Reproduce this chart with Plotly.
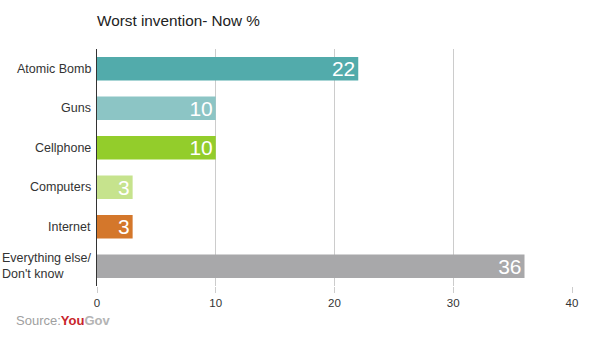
import plotly.graph_objects as go

categories = ["Atomic Bomb", "Guns", "Cellphone", "Computers", "Internet", "Everything else/<br>Don't know"]
values = [22, 10, 10, 3, 3, 36]
colors = ["#52abab", "#8cc5c5", "#93cd2b", "#c6e38d", "#d4772b", "#a8a8aa"]
x_ticks = [0, 10, 20, 30, 40]

FONT = "Liberation Sans, Arial, sans-serif"

fig = go.Figure(go.Bar(
    y=categories, x=values, orientation="h",
    marker=dict(color=colors, line=dict(width=0)),
    text=[str(v) for v in values], textposition="inside",
    insidetextanchor="end", textangle=0, constraintext="none",
    textfont=dict(color="white", size=21, family=FONT),
    width=0.6,
))

annotations = []
for c in categories:
    annotations.append(dict(
        text=c, x=0, xref="paper", y=c, yref="y", xanchor="right", yanchor="middle",
        xshift=-4, align="left", showarrow=False,
        font=dict(size=12.5, color="#333333", family=FONT)))

# plot area: y 49..286 px, x 97..572 px
annotations.append(dict(
    text="<span style='color:#a0a0a0'>Source:</span><b><span style='color:#c8242b'>You</span><span style='color:#b4b4b4'>Gov</span></b>",
    x=(14 - 97) / 475, y=(286 - 320) / 237, xref="paper", yref="paper",
    xanchor="left", yanchor="middle", showarrow=False, font=dict(size=13, family=FONT)))

fig.update_layout(
    width=600, height=349,
    margin=dict(l=97, r=28, t=49, b=63),
    plot_bgcolor="white", paper_bgcolor="white",
    showlegend=False,
    font=dict(family=FONT, color="#333333", size=11),
    title=dict(text="Worst invention- Now %", x=97/600, xanchor="left", y=1-21/349, yanchor="middle",
               font=dict(size=15.3, color="#222222")),
    xaxis=dict(range=[0, 40], tickvals=x_ticks, showgrid=True, gridcolor="#cccccc", gridwidth=1,
               zeroline=False, ticks="outside", ticklen=6, tickcolor="#cccccc",
               tickfont=dict(size=11.5, color="#333333"), fixedrange=True),
    yaxis=dict(autorange="reversed", showline=True, linecolor="#333333", linewidth=1,
               ticks="", showticklabels=False),
    bargap=0.4,
    annotations=annotations,
)

fig.write_html("out.html")
